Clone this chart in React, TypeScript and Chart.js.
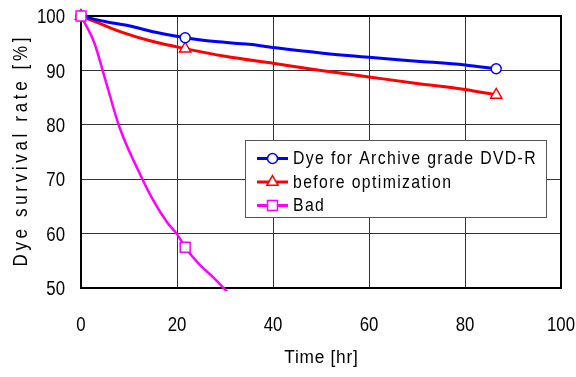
import React, { useEffect, useRef } from 'react';
import { Chart, registerables } from 'chart.js';
import { drawPoint } from 'chart.js/helpers';

Chart.register(...registerables);

const archiveTime = [0, 5, 10, 15, 21.7, 28, 35, 41, 50, 60, 70, 80, 86.5];
const archiveRate = [100, 99, 98.2, 97.1, 96.0, 95.3, 94.8, 94.1, 93.2, 92.4, 91.7, 91.0, 90.3];
const beforeTime = [0, 4, 8.6, 15, 21.7, 30, 40, 50, 60, 70, 80, 86.5];
const beforeRate = [100, 98.6, 97.0, 95.3, 94.0, 92.6, 91.3, 90.0, 88.8, 87.6, 86.5, 85.5];
const badTime = [0, 2.8, 5, 8, 12.2, 15, 18, 20, 21.7, 24.6, 27.5, 31];
const badRate = [100, 95, 88.5, 79.6, 71.1, 66.2, 62, 59.9, 57.5, 54.4, 52.0, 48.8];
const markerTimes = [0, 21.7, 86.5];

const seriesLabels = ['Dye for Archive grade DVD-R', 'before optimization', 'Bad'];
const seriesColors = ['#0000ff', '#ff0000', '#ff00ff'];
const seriesStyles = ['circle', 'triangle', 'rect'];
const seriesMarkerRadius = [5, 6.5, 7];
const xTitle = 'Time [hr]';
const yTitle = 'Dye survival rate [%]';

const FONT = "'Liberation Sans', Arial, sans-serif";

const toPoints = (xs: number[], ys: number[]) => xs.map((x, i) => ({ x, y: ys[i] }));

function drawText(
  ctx: CanvasRenderingContext2D,
  s: string,
  x: number,
  y: number,
  size: number,
  sx: number,
  spacing: number,
  align: 'left' | 'center' | 'right'
) {
  ctx.save();
  ctx.font = `${size}px ${FONT}`;
  (ctx as any).letterSpacing = `${spacing}px`;
  ctx.textAlign = 'left';
  ctx.textBaseline = 'middle';
  const w = ctx.measureText(s).width - spacing;
  ctx.translate(x, y);
  ctx.scale(sx, 1);
  const ox = align === 'left' ? 0 : align === 'center' ? -w / 2 : -w;
  ctx.fillStyle = '#000';
  ctx.fillText(s, ox, 0);
  ctx.restore();
}

const frameAndLegend = {
  id: 'frameAndLegend',
  beforeDatasetsDraw(chart: any) {
    const { ctx, chartArea: a } = chart;
    ctx.save();
    ctx.strokeStyle = '#000';
    ctx.lineWidth = 2;
    ctx.strokeRect(a.left, a.top, a.right - a.left, a.bottom - a.top);
    ctx.restore();
  },
  afterDraw(chart: any) {
    const { ctx, chartArea: a } = chart;
    const xs = chart.scales.x;
    const ys = chart.scales.y;
    // tick labels
    xs.ticks.forEach((t: any) => {
      drawText(ctx, String(t.value), xs.getPixelForValue(t.value), a.bottom + 37.5, 20.5, 0.82, 0, 'center');
    });
    ys.ticks.forEach((t: any) => {
      drawText(ctx, String(t.value), a.left - 16, ys.getPixelForValue(t.value) + 1.5, 20.5, 0.82, 0, 'right');
    });
    // legend box
    const lx = a.left + 164;
    const ly = a.top + 124;
    const lw = 301;
    const lh = 77;
    ctx.save();
    ctx.fillStyle = '#fff';
    ctx.fillRect(lx, ly, lw, lh);
    ctx.strokeStyle = '#555';
    ctx.lineWidth = 1;
    ctx.strokeRect(lx + 0.5, ly + 0.5, lw, lh);
    chart.data.datasets.forEach((ds: any, i: number) => {
      const ry = ly + 18.5 + i * 23.5;
      ctx.strokeStyle = ds.borderColor;
      ctx.lineWidth = 3;
      ctx.beginPath();
      ctx.moveTo(lx + 12, ry);
      ctx.lineTo(lx + 43, ry);
      ctx.stroke();
      ctx.fillStyle = '#fff';
      ctx.strokeStyle = ds.borderColor;
      ctx.lineWidth = 1.5;
      drawPoint(
        ctx,
        { pointStyle: ds.pointStyle, radius: seriesMarkerRadius[i], borderWidth: 1.5, rotation: 0 } as any,
        lx + 27.5,
        ry
      );
      drawText(ctx, ds.label, lx + 48, ry + 0.5, 18.6, 0.85, 1.6, 'left');
    });
    ctx.restore();
    // axis titles
    drawText(ctx, xTitle, (a.left + a.right) / 2, 358, 18.8, 0.92, 0.8, 'center');
    ctx.save();
    ctx.translate(21, (a.top + a.bottom) / 2);
    ctx.rotate(-Math.PI / 2);
    drawText(ctx, yTitle, 0, 0, 20, 0.85, 4.3, 'center');
    ctx.restore();
  },
};

export default function App() {
  const ref = useRef<HTMLCanvasElement | null>(null);
  useEffect(() => {
    document.body.style.margin = '0';
    const canvas = ref.current!;
    const mk = (i: number, xs: number[], ys: number[], width: number, order: number) => ({
      label: seriesLabels[i],
      data: toPoints(xs, ys),
      order,
      borderColor: seriesColors[i],
      backgroundColor: '#ffffff',
      borderWidth: width,
      pointStyle: seriesStyles[i],
      pointRadius: (c: any) => (markerTimes.includes(c.raw?.x) ? seriesMarkerRadius[i] : 0),
      pointHoverRadius: 0,
      pointBorderWidth: 1.5,
      pointBackgroundColor: '#ffffff',
      cubicInterpolationMode: 'monotone',
      tension: 0.4,
      clip: { left: 12, right: 12, top: 12, bottom: 3 },
    });
    const chart = new Chart(canvas, {
      type: 'line',
      data: {
        datasets: [
          mk(0, archiveTime, archiveRate, 3, 1),
          mk(1, beforeTime, beforeRate, 3, 2),
          mk(2, badTime, badRate, 2.5, 0),
        ] as any,
      },
      options: {
        animation: false,
        responsive: false,
        devicePixelRatio: 1,
        layout: { padding: { left: 0, right: 15, top: 16, bottom: 0 } },
        plugins: { legend: { display: false }, tooltip: { enabled: false } },
        scales: {
          x: {
            type: 'linear',
            min: 0,
            max: 100,
            ticks: { stepSize: 20, display: false },
            grid: { color: '#333', lineWidth: 1, drawTicks: false },
            border: { display: false },
            afterFit: (s: any) => {
              s.height = 89;
              s.paddingLeft = 0;
              s.paddingRight = 0;
            },
          },
          y: {
            min: 50,
            max: 100,
            ticks: { stepSize: 10, display: false },
            grid: { color: '#333', lineWidth: 1, drawTicks: false },
            border: { display: false },
            afterFit: (s: any) => {
              s.width = 81;
              s.paddingTop = 0;
              s.paddingBottom = 0;
            },
          },
        },
      },
      plugins: [frameAndLegend],
    } as any);
    return () => chart.destroy();
  }, []);
  return (
    <div style={{ width: 576, height: 377 }}>
      <canvas ref={ref} width={576} height={377} />
    </div>
  );
}
